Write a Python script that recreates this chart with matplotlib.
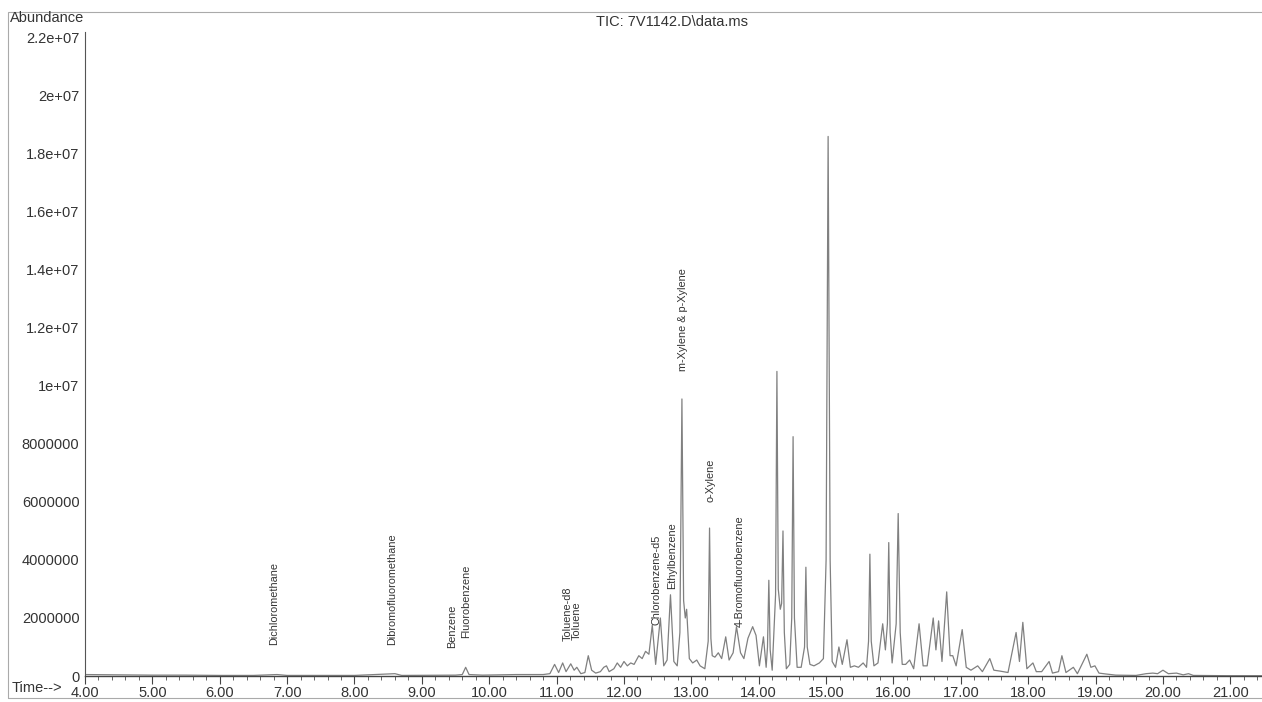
import numpy as np
import matplotlib.pyplot as plt
from matplotlib.patches import Rectangle

plt.rcParams['font.family'] = ['Liberation Sans', 'DejaVu Sans']

# TIC trace, retention time (min) vs abundance (millions of counts)
rt = [4.00, 4.50, 5.00, 5.50, 6.00, 6.50, 6.85, 7.00, 8.00, 8.60, 8.70, 9.50,
      9.60, 9.65, 9.70, 9.90, 10.40, 10.80, 10.90, 10.97, 11.03, 11.09, 11.14,
      11.21, 11.26, 11.30, 11.36, 11.42, 11.47, 11.52, 11.58, 11.65, 11.70,
      11.74, 11.78, 11.85, 11.90, 11.95, 12.00, 12.05, 12.10, 12.15, 12.22,
      12.27, 12.32, 12.37, 12.42, 12.47, 12.54, 12.59, 12.64, 12.69, 12.74,
      12.79, 12.83, 12.86, 12.885, 12.91, 12.93, 12.97, 13.02, 13.08, 13.13,
      13.20, 13.25, 13.27, 13.29, 13.31, 13.35, 13.40, 13.45, 13.51, 13.56,
      13.62, 13.67, 13.73, 13.78, 13.84, 13.91, 13.96, 14.01, 14.07, 14.11,
      14.13, 14.15, 14.17, 14.20, 14.25, 14.27, 14.29, 14.32, 14.34, 14.36,
      14.38, 14.41, 14.46, 14.49, 14.51, 14.53, 14.57, 14.63, 14.68, 14.70,
      14.72, 14.76, 14.82, 14.90, 14.96, 15.00, 15.03, 15.06, 15.09, 15.14,
      15.19, 15.24, 15.31, 15.36, 15.42, 15.48, 15.55, 15.60, 15.63, 15.65,
      15.67, 15.71, 15.77, 15.84, 15.88, 15.91, 15.93, 15.95, 15.98, 16.04,
      16.07, 16.10, 16.13, 16.18, 16.24, 16.30, 16.38, 16.44, 16.50, 16.59,
      16.63, 16.67, 16.72, 16.79, 16.84, 16.88, 16.93, 17.02, 17.08, 17.15,
      17.25, 17.32, 17.43, 17.49, 17.58, 17.70, 17.82, 17.87, 17.92, 17.98,
      18.07, 18.12, 18.20, 18.31, 18.36, 18.45, 18.50, 18.56, 18.67, 18.73,
      18.87, 18.93, 18.99, 19.05, 19.15, 19.30, 19.60, 19.75, 19.85, 19.92,
      20.00, 20.08, 20.20, 20.30, 20.38, 20.45, 21.00, 21.47]
abund_m = [0.05, 0.04, 0.03, 0.03, 0.02, 0.02, 0.05, 0.02, 0.02, 0.08, 0.02, 0.03,
           0.05, 0.30, 0.05, 0.03, 0.05, 0.05, 0.08, 0.40, 0.12, 0.45, 0.15,
           0.42, 0.20, 0.30, 0.08, 0.12, 0.70, 0.20, 0.10, 0.15, 0.30,
           0.35, 0.15, 0.25, 0.45, 0.30, 0.50, 0.35, 0.45, 0.40, 0.70,
           0.60, 0.85, 0.75, 1.75, 0.40, 2.00, 0.35, 0.55, 2.80, 0.50,
           0.35, 1.50, 9.55, 2.60, 2.00, 2.30, 0.60, 0.45, 0.55, 0.35,
           0.25, 1.20, 5.10, 1.30, 0.70, 0.65, 0.80, 0.60, 1.35, 0.55,
           0.80, 1.70, 0.80, 0.60, 1.30, 1.70, 1.40, 0.35, 1.35, 0.30,
           1.00, 3.30, 0.90, 0.20, 2.80, 10.50, 3.00, 2.30, 2.50, 5.00,
           1.50, 0.25, 0.40, 2.00, 8.25, 2.00, 0.30, 0.30, 1.00, 3.75,
           1.00, 0.40, 0.35, 0.45, 0.60, 4.00, 18.60, 4.00, 0.50, 0.30,
           1.00, 0.40, 1.25, 0.30, 0.35, 0.30, 0.45, 0.30, 1.20, 4.20,
           1.20, 0.35, 0.45, 1.80, 0.90, 1.80, 4.60, 1.50, 0.45, 1.80,
           5.60, 1.50, 0.40, 0.40, 0.55, 0.25, 1.80, 0.35, 0.35, 2.00,
           0.90, 1.90, 0.50, 2.90, 0.70, 0.70, 0.35, 1.60, 0.30, 0.20,
           0.35, 0.15, 0.60, 0.20, 0.17, 0.12, 1.50, 0.50, 1.85, 0.25,
           0.45, 0.15, 0.15, 0.50, 0.10, 0.15, 0.70, 0.12, 0.30, 0.08,
           0.75, 0.30, 0.35, 0.10, 0.07, 0.03, 0.02, 0.08, 0.10, 0.08,
           0.20, 0.08, 0.10, 0.04, 0.08, 0.02, 0.01, 0.01]

# identified compounds and where their names sit
names = ['Dichloromethane', 'Dibromofluoromethane', 'Benzene', 'Fluorobenzene',
         'Toluene-d8', 'Toluene', 'Chlorobenzene-d5', 'Ethylbenzene',
         'm-Xylene & p-Xylene', 'o-Xylene', '4-Bromofluorobenzene']
name_rt = [6.81, 8.56, 9.45, 9.66, 11.16, 11.30, 12.48, 12.71, 12.87, 13.29, 13.72]
name_y_m = [1.07, 1.07, 0.97, 1.30, 1.20, 1.25, 1.75, 3.00, 10.50, 6.00, 1.70]

y_ticks = [0, 2e6, 4e6, 6e6, 8e6, 1e7, 1.2e7, 1.4e7, 1.6e7, 1.8e7, 2e7, 2.2e7]
y_ticklabels = ['0', '2000000', '4000000', '6000000', '8000000', '1e+07',
                '1.2e+07', '1.4e+07', '1.6e+07', '1.8e+07', '2e+07', '2.2e+07']

W, H = 1262, 702
fig = plt.figure(figsize=(W / 100, H / 100), dpi=100)
ax = fig.add_axes([85 / W, 26 / H, 1 - 85 / W, (676 - 32) / H])

ax.plot(rt, np.array(abund_m) * 1e6, color='#808080', lw=0.9)

for nm, x, y in zip(names, name_rt, name_y_m):
    ax.text(x, y * 1e6, nm, rotation=90, ha='center', va='bottom',
            fontsize=7.8, color='#333333')

ax.set_xlim(4.0, 21.47)
ax.set_ylim(0, 2.22e7)
ax.set_xticks(np.arange(4, 22, 1.0))
ax.set_xticklabels(['%.2f' % v for v in np.arange(4, 22, 1.0)])
ax.set_xticks(np.arange(4, 21.5, 0.2), minor=True)
ax.set_yticks(y_ticks)
ax.set_yticklabels(y_ticklabels)

ax.tick_params(axis='x', which='major', direction='out', length=6, width=0.8,
               pad=1, labelsize=10.5, colors='#444444', labelcolor='#333333')
ax.tick_params(axis='x', which='minor', direction='out', length=3, width=0.7,
               colors='#666666')
ax.tick_params(axis='y', length=0, pad=4, labelsize=10.5, labelcolor='#333333')

for s in ['top', 'right']:
    ax.spines[s].set_visible(False)
ax.spines['left'].set_color('#555555')
ax.spines['bottom'].set_color('#444444')
ax.spines['left'].set_linewidth(0.8)
ax.spines['bottom'].set_linewidth(1.0)

fig.text(10 / W, 1 - 18 / H, 'Abundance', ha='left', va='center',
         fontsize=10.5, color='#333333')
fig.text(12 / W, 1 - 688 / H, 'Time-->', ha='left', va='center',
         fontsize=10.5, color='#333333')
fig.text(672 / W, 1 - 22 / H, r'TIC: 7V1142.D\data.ms', ha='center',
         va='center', fontsize=10.5, color='#333333')

# outer printout frame
fig.patches.append(Rectangle((8 / W, 4 / H), 1.2, (698 - 12) / H,
                             transform=fig.transFigure, fill=False,
                             edgecolor='#aaaaaa', lw=0.8))

fig.savefig('out.png', dpi=100)
